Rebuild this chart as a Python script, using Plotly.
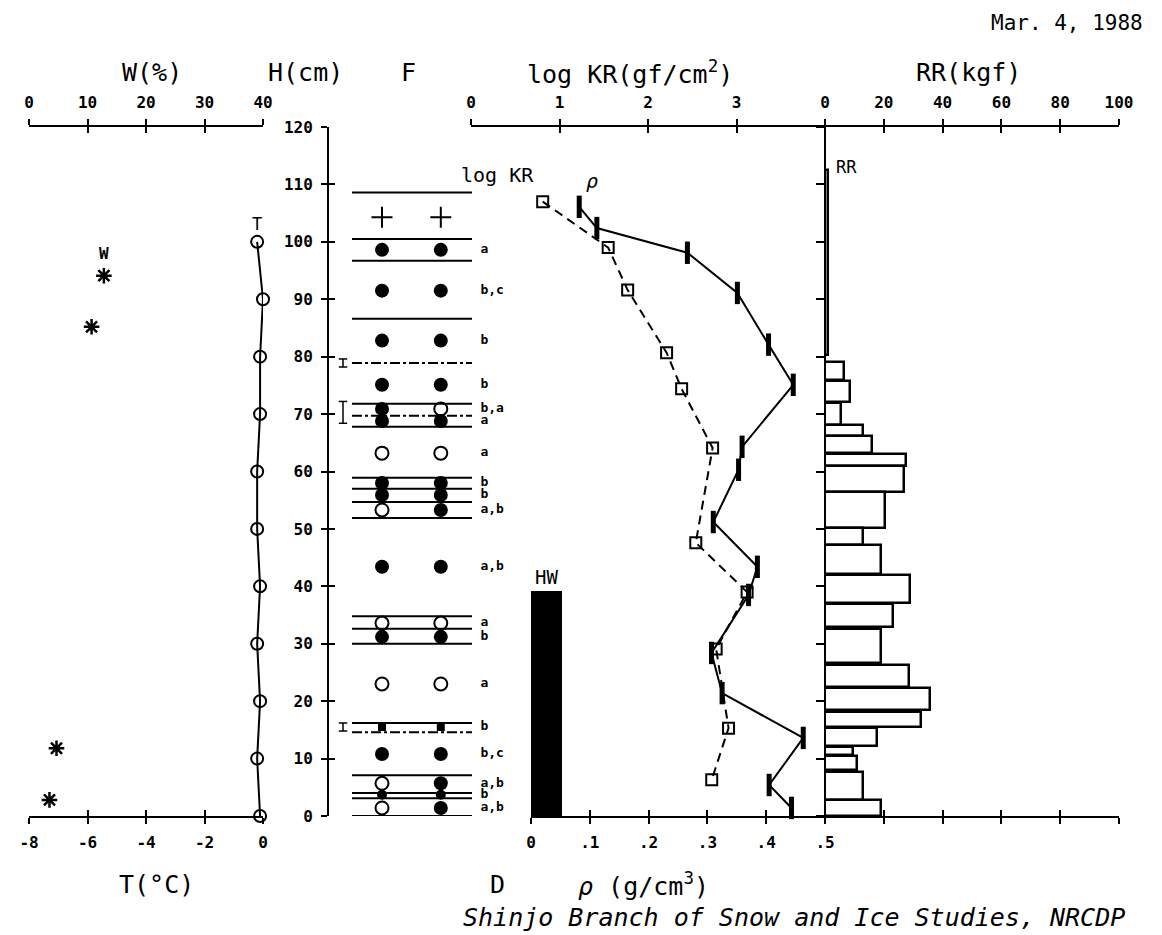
import plotly.graph_objects as go

# ---------------- data ----------------
T_height = [0, 10, 20, 30, 40, 50, 60, 70, 80, 90, 100]
T_values = [-0.1, -0.2, -0.1, -0.2, -0.1, -0.2, -0.2, -0.1, -0.1, 0.0, -0.2]

W_height = [94.1, 85.2, 11.8, 2.8]
W_values = [12.8, 10.7, 4.7, 3.5]

KR_height = [107.0, 99.0, 91.6, 80.7, 74.4, 64.1, 47.6, 39.0, 29.1, 15.3, 6.3]
logKR = [0.81, 1.55, 1.77, 2.21, 2.38, 2.73, 2.54, 3.12, 2.77, 2.91, 2.72]

rho_height = [106.1, 102.4, 98.1, 91.1, 82.1, 75.1, 64.3, 60.3, 51.2, 43.4,
              38.5, 28.4, 21.4, 13.6, 5.4, 1.4]
rho = [0.082, 0.112, 0.266, 0.351, 0.404, 0.446, 0.359, 0.353, 0.310, 0.385,
       0.370, 0.307, 0.325, 0.463, 0.405, 0.443]

HW_top = 39.2
HW_width = 0.052

RR_bottom = [80.3, 76.0, 72.1, 68.1, 66.2, 63.2, 61.0, 56.4, 50.2, 47.2, 42.2,
             37.1, 32.9, 26.7, 22.5, 18.5, 15.5, 12.2, 10.6, 8.0, 2.8, 0.0]
RR_top = [112.5, 79.1, 75.8, 71.9, 68.1, 66.2, 63.1, 61.0, 56.4, 50.2, 47.2,
          42.0, 36.9, 32.6, 26.3, 22.3, 18.1, 15.3, 12.0, 10.5, 7.7, 2.8]
RR_values = [1.0, 6.5, 8.4, 5.3, 12.9, 15.9, 27.7, 27.0, 20.3, 12.9, 19.2,
             29.0, 23.0, 18.9, 28.7, 35.8, 32.7, 17.8, 9.6, 11.0, 12.9, 18.9]

# stratigraphy (F column)
layer_lines = [108.6, 100.5, 96.7, 86.6, 78.9, 71.8, 69.7, 67.8, 58.9, 57.0, 54.7,
               51.9, 34.8, 32.6, 30.0, 16.2, 14.6, 7.1, 4.0, 3.1, 0.0]
layer_line_kind = ["s", "s", "s", "s", "d", "s", "d", "s", "s", "s", "s",
                   "s", "s", "s", "s", "s", "d", "s", "s", "s", "s"]
grain_height = [104.3, 98.6, 91.5, 82.8, 75.1, 70.9, 68.8, 63.2, 58.0, 55.9, 53.3,
                43.4, 33.6, 31.2, 23.0, 15.5, 10.8, 5.7, 3.7, 1.4]
grain_left = ["+", "f", "f", "f", "f", "f", "f", "o", "f", "f", "o",
              "f", "o", "f", "o", "s", "f", "o", "fs", "o"]
grain_right = ["+", "f", "f", "f", "f", "o", "f", "o", "f", "f", "f",
               "f", "o", "f", "o", "s", "f", "f", "fs", "f"]
grain_label = ["", "a", "b,c", "b", "b", "b,a", "a", "a", "b", "b", "a,b",
               "a,b", "a", "b", "a", "b", "b,c", "a,b", "b", "a,b"]
ice_low = [78.2, 68.4, 14.8]
ice_high = [79.6, 72.2, 16.2]

T_ticks = [-8, -6, -4, -2, 0]
W_ticks = [0, 10, 20, 30, 40]
H_ticks = list(range(0, 121, 10))
KR_ticks = [0, 1, 2, 3]
rho_ticks = [0, 0.1, 0.2, 0.3, 0.4, 0.5]
rho_ticktext = ["0", ".1", ".2", ".3", ".4", ".5"]
RR_ticks = [0, 20, 40, 60, 80, 100]

# ---------------- geometry helpers ----------------
FW, FH = 1162, 935
PAGE_OFF = 8  # default body margin of the html page

def fx(px):
    return (px - PAGE_OFF) / FW
def fy(py):
    return 1 - (py - PAGE_OFF) / FH

MONO = "DejaVu Sans Mono"
BLACK = "black"
tickfont = dict(family=MONO, size=16, color=BLACK, weight="bold")

fig = go.Figure()

# temperature
fig.add_trace(go.Scatter(
    x=T_values, y=T_height, xaxis="x", yaxis="y", mode="lines+markers",
    line=dict(color=BLACK, width=2),
    marker=dict(symbol="circle-open", size=12, color=BLACK, line=dict(width=2)),
    showlegend=False, cliponaxis=False))
# water content
fig.add_trace(go.Scatter(
    x=W_values, y=W_height, xaxis="x2", yaxis="y", mode="markers",
    marker=dict(symbol="asterisk-open", size=13, color=BLACK, line=dict(width=2.5)),
    showlegend=False, cliponaxis=False))

# F column lines
seg_x_s, seg_y_s, seg_x_d, seg_y_d = [], [], [], []
for h, k in zip(layer_lines, layer_line_kind):
    if k == "s":
        seg_x_s += [0, 1, None]; seg_y_s += [h, h, None]
    else:
        seg_x_d += [0, 1, None]; seg_y_d += [h, h, None]
fig.add_trace(go.Scatter(x=seg_x_s, y=seg_y_s, xaxis="x3", yaxis="y", mode="lines",
                         line=dict(color=BLACK, width=2), showlegend=False, cliponaxis=False))
fig.add_trace(go.Scatter(x=seg_x_d, y=seg_y_d, xaxis="x3", yaxis="y", mode="lines",
                         line=dict(color=BLACK, width=2, dash="10px,3px,3px,3px"),
                         showlegend=False, cliponaxis=False))

sym_map = {
    "+": dict(symbol="cross-thin-open", size=15, line=dict(width=2, color=BLACK), color=BLACK),
    "f": dict(symbol="circle", size=14, color=BLACK, line=dict(width=0)),
    "o": dict(symbol="circle-open", size=13, color=BLACK, line=dict(width=2)),
    "s": dict(symbol="square", size=8, color=BLACK, line=dict(width=0)),
    "fs": dict(symbol="circle", size=10, color=BLACK, line=dict(width=0)),
}
for col_x, col in ((0.25, grain_left), (0.74, grain_right)):
    for code in sym_map:
        hs = [h for h, c in zip(grain_height, col) if c == code]
        if not hs:
            continue
        fig.add_trace(go.Scatter(x=[col_x] * len(hs), y=hs, xaxis="x3", yaxis="y",
                                 mode="markers", marker=sym_map[code],
                                 showlegend=False, cliponaxis=False))
lab_h = [h for h, t in zip(grain_height, grain_label) if t]
lab_t = [t for t in grain_label if t]
fig.add_trace(go.Scatter(
    x=[1.07] * len(lab_h), y=lab_h, xaxis="x3", yaxis="y",
    mode="text", text=lab_t, textposition="middle right",
    textfont=dict(family=MONO, size=13, color=BLACK, weight="bold"),
    showlegend=False, cliponaxis=False))
# ice marks
ix, iy = [], []
for lo, hi in zip(ice_low, ice_high):
    ix += [-0.075, -0.075, None]; iy += [lo, hi, None]
fig.add_trace(go.Scatter(x=ix, y=iy, xaxis="x3", yaxis="y", mode="lines+markers",
                         line=dict(color=BLACK, width=1.5),
                         marker=dict(symbol="line-ew-open", size=6, line=dict(width=1.5, color=BLACK)),
                         showlegend=False, cliponaxis=False))

# HW bar
fig.add_trace(go.Bar(x=[HW_width], y=[HW_top / 2], width=[HW_top], base=0,
                     orientation="h", xaxis="x4", yaxis="y",
                     marker=dict(color=BLACK, line=dict(width=0)), showlegend=False))
# density
fig.add_trace(go.Scatter(
    x=rho, y=rho_height, xaxis="x4", yaxis="y", mode="lines+markers",
    line=dict(color=BLACK, width=2),
    marker=dict(symbol="line-ns-open", size=16, color=BLACK, line=dict(width=5)),
    showlegend=False, cliponaxis=False))
# log KR
fig.add_trace(go.Scatter(
    x=logKR, y=KR_height, xaxis="x5", yaxis="y", mode="lines+markers",
    line=dict(color=BLACK, width=2, dash="9px,6px"),
    marker=dict(symbol="square-open", size=11, color=BLACK, line=dict(width=2)),
    showlegend=False, cliponaxis=False))

# RR bars
RR_center = [(b + t) / 2 for b, t in zip(RR_bottom, RR_top)]
RR_thick = [t - b for b, t in zip(RR_bottom, RR_top)]
fig.add_trace(go.Bar(x=RR_values, y=RR_center, width=RR_thick, base=0,
                     orientation="h", xaxis="x6", yaxis="y",
                     marker=dict(color="white", line=dict(color=BLACK, width=2.5)),
                     showlegend=False))

# dummy traces for decorative overlay axes
for xa, ya in (("x7", "y"), ("x8", "y"), ("x9", "y"), ("x10", "y"), ("x11", "y"),
               ("x12", "y"), ("x13", "y"), ("x", "y2"), ("x6", "y3")):
    fig.add_trace(go.Scatter(x=[None], y=[None], xaxis=xa, yaxis=ya,
                             mode="markers", showlegend=False, hoverinfo="skip"))

Y0, Y1 = fy(816), fy(127)
ax_common = dict(showgrid=False, zeroline=False, showline=True, linecolor=BLACK,
                 linewidth=2, tickcolor=BLACK, tickwidth=2, tickfont=tickfont,
                 fixedrange=True, automargin=False)

def xax(domain, rng, side, tickvals, ticktext=None, ticks="outside", showlabels=True,
        overlaying=None, ticklen=6, standoff=None, showline=True):
    d = dict(ax_common)
    d.update(domain=domain, range=rng, side=side, anchor="y", tickmode="array",
             tickvals=tickvals, ticks=ticks, ticklen=ticklen, showticklabels=showlabels,
             showline=showline)
    if ticktext is not None:
        d["ticktext"] = ticktext
    if overlaying:
        d["overlaying"] = overlaying
        d.pop("domain")
    if standoff is not None:
        d["ticklabelstandoff"] = standoff
    return d

dT = [fx(29), fx(263)]
dKR = [fx(471), fx(825)]
drho = [fx(531), fx(825)]
dRR = [fx(825), fx(1119)]
# F column: unit 0..1 spans px 352..472, axis widened so side marks stay visible
F_px0, F_px1 = 352, 472
F_lo, F_hi = -0.15, 1.25
dF = [fx(F_px0 + F_lo * (F_px1 - F_px0)), fx(F_px0 + F_hi * (F_px1 - F_px0))]

layout_axes = dict(
    xaxis=xax(dT, [-8, 0], "bottom", T_ticks, ["-8", "-6", "-4", "-2", "0"], standoff=5),
    xaxis2=xax(dT, [0, 40], "top", W_ticks, [str(v) for v in W_ticks], standoff=5),
    xaxis3=dict(domain=dF, range=[F_lo, F_hi], visible=False, anchor="y",
                fixedrange=True),
    xaxis4=xax(drho, [0, 0.5], "bottom", rho_ticks, rho_ticktext, standoff=5),
    xaxis5=xax(dKR, [0, 4], "top", KR_ticks, [str(v) for v in KR_ticks], standoff=5),
    xaxis6=xax(dRR, [0, 100], "top", RR_ticks, [str(v) for v in RR_ticks], standoff=5),
    xaxis7=xax(dRR, [0, 100], "bottom", RR_ticks[1:], showlabels=False),
    # inside halves of crossing ticks
    xaxis8=xax(None, [-8, 0], "bottom", T_ticks, ticks="inside", showlabels=False,
               overlaying="x", showline=False),
    xaxis9=xax(None, [0, 40], "top", W_ticks, ticks="inside", showlabels=False,
               overlaying="x2", showline=False),
    xaxis10=xax(None, [0, 0.5], "bottom", rho_ticks, ticks="inside", showlabels=False,
                overlaying="x4", showline=False),
    xaxis11=xax(None, [0, 4], "top", KR_ticks, ticks="inside", showlabels=False,
                overlaying="x5", showline=False),
    xaxis12=xax(None, [0, 100], "top", RR_ticks[1:], ticks="inside", showlabels=False,
                overlaying="x6", showline=False),
    xaxis13=xax(None, [0, 100], "bottom", RR_ticks[1:], ticks="inside", showlabels=False,
                overlaying="x7", showline=False),
)
yaxis = dict(ax_common)
yaxis.update(domain=[Y0, Y1], range=[0, 120], anchor="free", position=fx(328),
             side="left", tickmode="array", tickvals=H_ticks, ticks="outside",
             ticklen=6, ticklabelstandoff=5)
yaxis2 = dict(ax_common)
yaxis2.update(range=[0, 120], anchor="free", position=fx(328), overlaying="y",
              side="left", tickmode="array", tickvals=H_ticks, ticks="inside",
              ticklen=6, showticklabels=False, showline=False)
yaxis3 = dict(ax_common)
yaxis3.update(range=[0, 120], anchor="free", position=fx(825), overlaying="y",
              side="left", tickmode="array", tickvals=H_ticks, ticks="outside",
              ticklen=8, showticklabels=False)

def ann(text, px, py, size=25, xanchor="center", italic=False, weight="normal"):
    return dict(text=text, x=fx(px), y=fy(py), xref="paper", yref="paper",
                showarrow=False, xanchor=xanchor, yanchor="middle",
                font=dict(family=MONO, size=size, color=BLACK, weight=weight,
                          style="italic" if italic else "normal"))

annotations = [
    ann("Mar. 4, 1988", 1145, 23, size=21, xanchor="right"),
    ann("W(%)", 152, 72),
    ann("H(cm)", 305, 72),
    ann("F", 408, 72),
    ann("log KR(gf/cm<sup>2</sup>)", 630, 72),
    ann("RR(kgf)", 968, 72),
    ann("T(°C)", 156, 884),
    ann("D", 497, 884),
    ann("<i>ρ</i> (g/cm<sup>3</sup>)", 643, 884),
    ann("Shinjo Branch of Snow and Ice Studies, NRCDP", 1127, 917, size=25,
        xanchor="right", italic=True),
    ann("log KR", 497, 175, size=20),
    ann("<i>ρ</i>", 592, 181, size=20),
    ann("RR", 846, 167, size=17),
    dict(text="T", x=T_values[-1], y=T_height[-1], xref="x", yref="y", yshift=18,
         showarrow=False, font=dict(family=MONO, size=17, color=BLACK)),
    dict(text="W", x=W_values[0], y=W_height[0], xref="x2", yref="y", yshift=22,
         showarrow=False, font=dict(family=MONO, size=16, color=BLACK, weight="bold")),
    dict(text="HW", x=HW_width / 2, y=HW_top, xref="x4", yref="y", yshift=14,
         showarrow=False, font=dict(family=MONO, size=19, color=BLACK)),
]

fig.update_layout(
    width=FW, height=FH, autosize=False,
    margin=dict(l=0, r=0, t=0, b=0, autoexpand=False),
    paper_bgcolor="white", plot_bgcolor="rgba(0,0,0,0)",
    barmode="overlay", bargap=0,
    yaxis=yaxis, yaxis2=yaxis2, yaxis3=yaxis3,
    annotations=annotations,
    hovermode=False,
    **layout_axes,
)

fig.write_html("out.html")
